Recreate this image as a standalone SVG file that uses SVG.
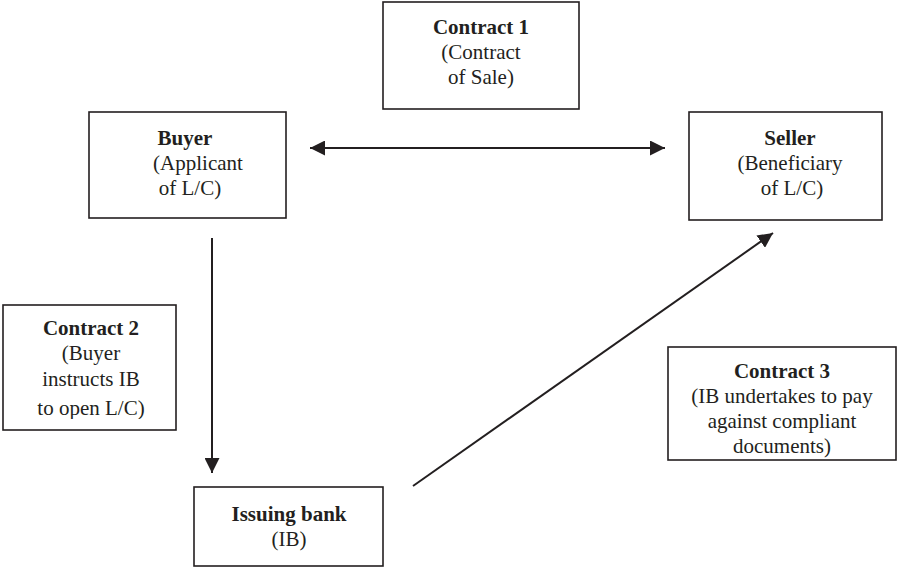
<svg xmlns="http://www.w3.org/2000/svg" width="923" height="568" viewBox="0 0 923 568">
<defs>
<style>
.box{fill:#fff;stroke:#231f20;stroke-width:1.6}
.t{font-family:"Liberation Serif","Times New Roman",serif;font-size:21px;fill:#231f20;text-anchor:middle}
.b{font-weight:bold}
.ln{stroke:#231f20;stroke-width:2;fill:none}
</style>
<marker id="ah2" viewBox="0 0 10 10" refX="10" refY="5" markerWidth="15" markerHeight="15" markerUnits="userSpaceOnUse" orient="auto-start-reverse">
<path d="M0,0 L10,5 L0,10 Z" fill="#231f20"/>
</marker>
<clipPath id="c2clip"><rect x="3" y="305" width="173" height="114"/></clipPath>
</defs>
<g id="connectors">
<line class="ln" x1="310" y1="148" x2="665" y2="148" marker-start="url(#ah2)" marker-end="url(#ah2)"/>
<line class="ln" x1="212" y1="238" x2="212" y2="473" marker-end="url(#ah2)"/>
<line class="ln" x1="413" y1="486" x2="773" y2="233" marker-end="url(#ah2)"/>
</g>
<g id="contract1">
<rect class="box" x="383" y="2" width="196" height="107"/>
<text class="t b" x="481" y="34">Contract 1</text>
<text class="t" x="481" y="59">(Contract</text>
<text class="t" x="481" y="84">of Sale)</text>
</g>
<g id="buyer">
<rect class="box" x="89" y="112" width="197" height="106"/>
<text class="t b" x="185" y="145">Buyer</text>
<text class="t" x="198" y="170">(Applicant</text>
<text class="t" x="190" y="195">of L/C)</text>
</g>
<g id="seller">
<rect class="box" x="689" y="112" width="193" height="108"/>
<text class="t b" x="790" y="145">Seller</text>
<text class="t" x="790" y="170">(Beneficiary</text>
<text class="t" x="792" y="195">of L/C)</text>
</g>
<g id="contract2">
<rect class="box" x="3" y="305" width="173" height="125"/>
<text class="t b" x="91" y="335">Contract 2</text>
<text class="t" x="91" y="360">(Buyer</text>
<text class="t" x="91" y="386">instructs IB</text>
<text class="t" x="91" y="415" clip-path="url(#c2clip)">to open L/C)</text>
</g>
<g id="contract3">
<rect class="box" x="668" y="347" width="228" height="113"/>
<text class="t b" x="782" y="378">Contract 3</text>
<text class="t" x="782" y="403">(IB undertakes to pay</text>
<text class="t" x="782" y="428">against compliant</text>
<text class="t" x="782" y="453">documents)</text>
</g>
<g id="issuing-bank">
<rect class="box" x="194" y="487" width="189" height="79"/>
<text class="t b" x="289" y="521">Issuing bank</text>
<text class="t" x="289" y="546">(IB)</text>
</g>
</svg>
